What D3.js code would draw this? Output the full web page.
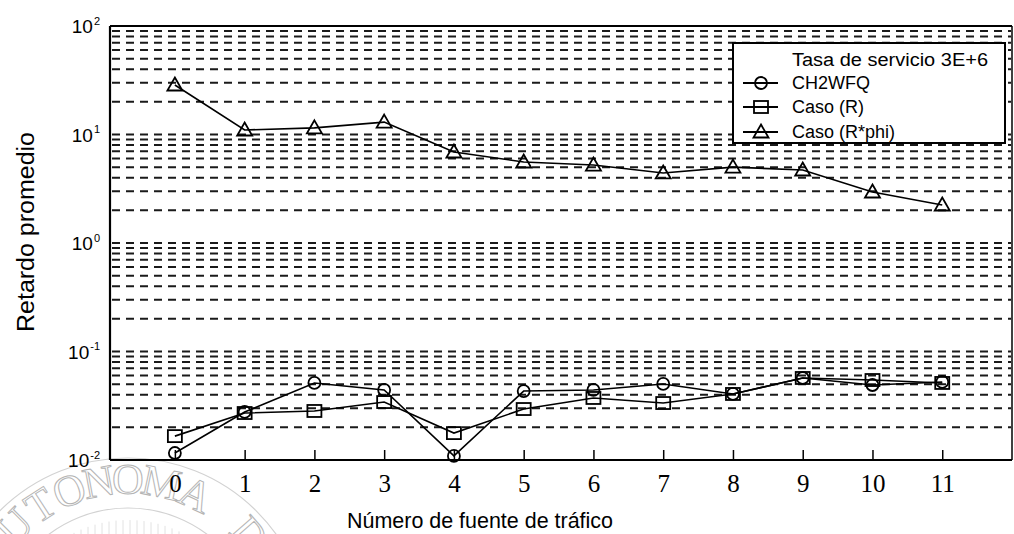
<!DOCTYPE html>
<html>
<head>
<meta charset="utf-8">
<script src="https://cdn.jsdelivr.net/npm/d3@7"></script>
<style>
  html, body { margin: 0; padding: 0; background: #fff; }
  svg { display: block; }
</style>
</head>
<body>
<svg id="chart" width="1014" height="534"></svg>
<script>
// ---- data ----
const sources = [0, 1, 2, 3, 4, 5, 6, 7, 8, 9, 10, 11];
const ch2wfq  = [0.0116, 0.0277, 0.0513, 0.0442, 0.0109, 0.0432, 0.0442, 0.0502, 0.0406, 0.057, 0.0491, 0.0524];
const casoR   = [0.0166, 0.0271, 0.0283, 0.0342, 0.0177, 0.0295, 0.0373, 0.0335, 0.0406, 0.057, 0.0546, 0.0513];
const casoRphi = [28.6, 11.0, 11.5, 13.0, 6.9, 5.58, 5.23, 4.42, 5.0, 4.71, 2.95, 2.24];
const yTickValues = [1e-2, 1e-1, 1, 10, 100];
const yTickExponents = ["-2", "-1", "0", "1", "2"];
const legendTitle = "Tasa de servicio  3E+6";
const seriesNames = ["CH2WFQ", "Caso (R)", "Caso (R*phi)"];
const xLabel = "Número de fuente de tráfico";
const yLabel = "Retardo promedio";
const watermarkLetters = ["U", "T", "O", "N", "O", "M", "A", "D"];
const watermarkAngles = [-45, -33, -21.5, -10.5, 0, 12, 25, 49];

// ---- layout ----
const L = 110, R = 1012, T = 26, B = 460;
const svg = d3.select("#chart");

const x = d3.scaleLinear().domain([-0.93, 12]).range([L, R]);
const y = d3.scaleLog().domain([1e-2, 1e2]).range([B, T]);

// ---- watermark (scanned seal, faint) ----
const wm = svg.append("g").attr("class", "watermark");
const wcx = 128, wcy = 640;
wm.append("circle").attr("cx", wcx).attr("cy", wcy).attr("r", 182)
  .attr("fill", "none").attr("stroke", "#d2d2d2").attr("stroke-width", 1.2);
wm.append("circle").attr("cx", wcx).attr("cy", wcy).attr("r", 132)
  .attr("fill", "none").attr("stroke", "#d2d2d2").attr("stroke-width", 1.2);
const hatch = d3.range(wcx - 110, wcx + 111, 7);
wm.append("g").selectAll("line").data(hatch).join("line")
  .attr("x1", d => d).attr("x2", d => d)
  .attr("y1", d => wcy - Math.sqrt(Math.max(0, 120 * 120 - (d - wcx) * (d - wcx))))
  .attr("y2", 534)
  .attr("stroke", "#e2e2e2").attr("stroke-width", 1);
wm.append("g").selectAll("text").data(watermarkLetters).join("text")
  .attr("transform", (d, i) => `translate(${wcx},${wcy}) rotate(${watermarkAngles[i]}) translate(0,-146)`)
  .attr("text-anchor", "middle")
  .attr("font-family", "'Liberation Serif', 'DejaVu Serif', serif")
  .attr("font-size", 44)
  .attr("fill", "none").attr("stroke", "#b4b4b4").attr("stroke-width", 1)
  .text(d => d);

// ---- gridlines (horizontal, dashed, log minor) ----
const gridVals = [];
for (let d = -2; d <= 1; d++) {
  for (let m = 1; m <= 9; m++) {
    const v = m * Math.pow(10, d);
    if (v > 1e-2 * 1.0001) gridVals.push(v);
  }
}
svg.append("g").attr("class", "grid")
  .selectAll("line").data(gridVals).join("line")
  .attr("x1", L + 2).attr("x2", R - 1)
  .attr("y1", d => y(d)).attr("y2", d => y(d))
  .attr("stroke", "#1a1a1a").attr("stroke-width", 2)
  .attr("stroke-dasharray", "8,6");

// ---- axes frame ----
const frame = svg.append("g");
frame.append("line").attr("x1", L).attr("x2", R).attr("y1", T).attr("y2", T)
  .attr("stroke", "#000").attr("stroke-width", 2);
frame.append("line").attr("x1", R).attr("x2", R).attr("y1", T).attr("y2", B)
  .attr("stroke", "#000").attr("stroke-width", 1.5);

// x axis
const xAxis = d3.axisBottom(x).tickValues(sources).tickSize(-10).tickPadding(14)
  .tickFormat(d3.format("d"));
const gx = svg.append("g").attr("transform", `translate(0,${B})`).call(xAxis);
gx.select(".domain").attr("d", `M${L},0H${R}`).attr("stroke", "#000").attr("stroke-width", 2.2);
gx.selectAll(".tick line").attr("stroke", "#000").attr("stroke-width", 1.5);
gx.selectAll(".tick text")
  .attr("font-family", "'Liberation Serif', 'Times New Roman', serif")
  .attr("font-size", 25).attr("fill", "#000");

// y axis
const yAxis = d3.axisLeft(y).tickValues(yTickValues).tickSize(0).tickPadding(0)
  .tickFormat(() => "");
const gy = svg.append("g").attr("transform", `translate(${L},0)`).call(yAxis);
gy.select(".domain").attr("d", `M0,${T}V${B}`).attr("stroke", "#000").attr("stroke-width", 2.2);
gy.selectAll(".tick").each(function (d, i) {
  const t = d3.select(this).select("text");
  t.attr("x", -10).attr("dy", "0.35em").attr("text-anchor", "end")
    .attr("font-family", "'Liberation Sans', Arial, sans-serif")
    .attr("font-size", 19).attr("fill", "#000");
  t.append("tspan").text("10");
  t.append("tspan").attr("font-size", 11).attr("dx", 1).attr("dy", "-0.75em").text(yTickExponents[i]);
});

// axis titles
svg.append("text")
  .attr("x", 480).attr("y", 528)
  .attr("text-anchor", "middle")
  .attr("font-family", "'Liberation Sans', Arial, sans-serif")
  .attr("font-size", 22).attr("fill", "#000")
  .attr("textLength", 266).attr("lengthAdjust", "spacingAndGlyphs")
  .text(xLabel);
svg.append("text")
  .attr("transform", "translate(34,232) rotate(-90)")
  .attr("text-anchor", "middle")
  .attr("font-family", "'Liberation Sans', Arial, sans-serif")
  .attr("font-size", 23).attr("fill", "#000")
  .attr("textLength", 200).attr("lengthAdjust", "spacingAndGlyphs")
  .text(yLabel);

// ---- series ----
const line = d3.line().x((d, i) => x(sources[i])).y(d => y(d));
const seriesData = [ch2wfq, casoR, casoRphi];
const markers = ["circle", "square", "triangle"];

function drawMarker(g, type, cx, cy) {
  if (type === "circle") {
    g.append("circle").attr("cx", cx).attr("cy", cy).attr("r", 6)
      .attr("fill", "none").attr("stroke", "#000").attr("stroke-width", 1.8);
  } else if (type === "square") {
    g.append("rect").attr("x", cx - 7).attr("y", cy - 6).attr("width", 14).attr("height", 12)
      .attr("fill", "none").attr("stroke", "#000").attr("stroke-width", 1.8);
  } else {
    g.append("path")
      .attr("d", `M${cx},${cy - 7.5}L${cx + 7.5},${cy + 5.5}L${cx - 7.5},${cy + 5.5}Z`)
      .attr("fill", "none").attr("stroke", "#000").attr("stroke-width", 1.8);
  }
}

seriesData.forEach((vals, s) => {
  const g = svg.append("g");
  g.append("path").datum(vals).attr("d", line)
    .attr("fill", "none").attr("stroke", "#000").attr("stroke-width", 1.6);
  vals.forEach((v, i) => drawMarker(g, markers[s], x(sources[i]), y(v)));
});

// ---- legend ----
const lg = svg.append("g");
lg.append("rect").attr("x", 733).attr("y", 43).attr("width", 272).attr("height", 100)
  .attr("fill", "#fff").attr("stroke", "#000").attr("stroke-width", 2);
const legFont = "'Liberation Sans', Arial, sans-serif";
lg.append("text").attr("x", 792).attr("y", 66)
  .attr("font-family", legFont).attr("font-size", 18).attr("fill", "#000")
  .attr("textLength", 196).attr("lengthAdjust", "spacingAndGlyphs")
  .text(legendTitle);
const rowsY = [83, 107, 132];
seriesNames.forEach((name, s) => {
  const ry = rowsY[s];
  lg.append("line").attr("x1", 743).attr("x2", 778).attr("y1", ry).attr("y2", ry)
    .attr("stroke", "#000").attr("stroke-width", 1.8);
  drawMarker(lg, markers[s], 761, ry);
  lg.append("text").attr("x", 792).attr("y", ry + 6)
    .attr("font-family", legFont).attr("font-size", 18).attr("fill", "#000")
    .text(name);
});
</script>
</body>
</html>
